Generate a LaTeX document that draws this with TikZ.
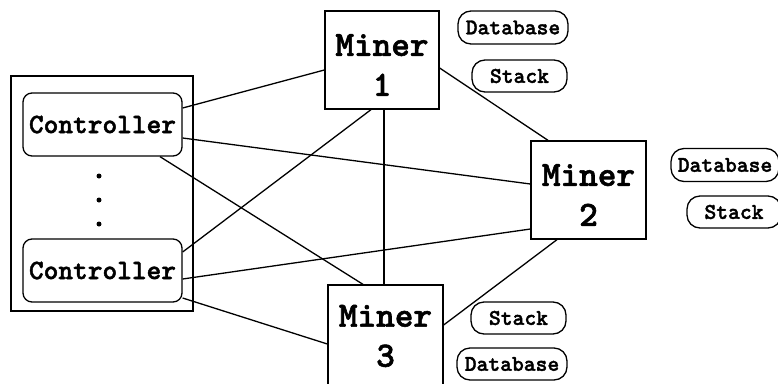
\documentclass[tikz,border=0pt]{standalone}
\usepackage{fontspec}
\newfontfamily\labelfont{lmmonolt10-bold}[Extension=.otf, FakeBold=1.6]
\begin{document}
\begin{tikzpicture}[x=1pt,y=-1pt,
  line width=1.3pt,
  group/.style={draw, minimum width=182pt, minimum height=235pt, inner sep=0pt},
  ctrlbox/.style={draw, rounded corners=9pt, minimum width=159pt, minimum height=63pt,
    inner sep=0pt, font=\labelfont\fontsize{28}{32}\selectfont},
  minerbox/.style={draw, minimum width=114pt, minimum height=98pt, inner sep=0pt},
  minertext/.style={align=center, inner sep=0pt, font=\labelfont\fontsize{35.5}{40}\selectfont},
  pill/.style={draw, rounded corners=13pt, minimum height=33pt, inner sep=0pt,
    font=\labelfont\fontsize{22.5}{26}\selectfont},
  dot/.style={circle, fill, inner sep=0pt, minimum size=5pt},
  link/.style={line width=1.3pt}]
\useasboundingbox (0,0) rectangle (778,383);

% controller group
\node[group] (grp) at (102,193.5) {};
\node[ctrlbox] (c1) at (102.5,124.5) {Controller};
\node[ctrlbox] (c2) at (102.5,270.5) {Controller};
\node[dot] (d1) at (99,176) {};
\node[dot] (d2) at (99,200) {};
\node[dot] (d3) at (99,224) {};

% miners
\node[minerbox] (m1) at (382,60) {};
\node[minertext] at (382,65) {Miner\\1};
\node[minerbox, minimum width=115pt] (m2) at (588.5,190) {};
\node[minertext] at (588.5,195) {Miner\\2};
\node[minerbox, minimum width=115pt, minimum height=100pt] (m3) at (385.5,335) {};
\node[minertext] at (385.5,336) {Miner\\3};

% local storage of each miner
\node[pill, minimum width=110pt] (db1) at (513,27.5) {Database};
\node[pill, minimum width=95pt, minimum height=32pt] (st1) at (519.5,76) {Stack};
\node[pill, minimum width=108pt] (db2) at (725,165) {Database};
\node[pill, minimum width=94pt, minimum height=32pt] (st2) at (734,212) {Stack};
\node[pill, minimum width=95pt, minimum height=32pt] (st3) at (518.5,318) {Stack};
\node[pill, minimum width=110pt, minimum height=32pt] (db3) at (512,364) {Database};

% connections
\draw[link] ([yshift=16.5pt]c1.east) -- ([yshift=-10pt]m1.west);
\draw[link] ([yshift=-13.5pt]c1.east) -- ([yshift=6pt]m2.west);
\draw[link] ([xshift=57.5pt]c1.south) -- ([xshift=-22.5pt]m3.north);
\draw[link] ([yshift=18.5pt]c2.east) -- ([xshift=-11pt]m1.south);
\draw[link] ([yshift=-8.5pt]c2.east) -- ([yshift=-39pt]m2.west);
\draw[link] ([yshift=-27.5pt]c2.east) -- ([yshift=-9pt]m3.west);
\draw[link] ([xshift=2pt]m1.south) -- ([xshift=2pt]m1.south |- m3.north);
\draw[link] ([yshift=-8pt]m1.east) -- ([xshift=-40.5pt]m2.north);
\draw[link] ([xshift=-31.5pt]m2.south) -- ([yshift=10pt]m3.east);
\end{tikzpicture}
\end{document}
